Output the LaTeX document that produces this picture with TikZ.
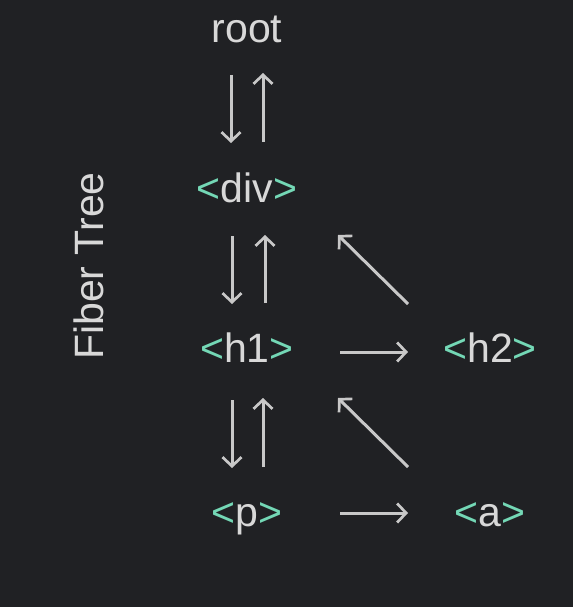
\documentclass[tikz,border=0pt]{standalone}
\usepackage{fontspec}
\setmainfont{Liberation Sans}
\usetikzlibrary{arrows.meta}
\definecolor{bgc}{HTML}{202124}
\definecolor{txt}{HTML}{D8D8D8}
\definecolor{tag}{HTML}{74D8B6}
\definecolor{arc}{HTML}{C8C8C8}
\newcommand{\tg}[1]{\textcolor{tag}{<}#1\textcolor{tag}{>}}
\begin{document}
\begin{tikzpicture}[x=1pt,y=-1pt,
  lbl/.style={anchor=base,inner sep=0pt,text=txt,font=\fontsize{41}{49}\selectfont},
  arr/.style={draw=arc,line width=3pt,-{Straight Barb[length=9pt,width=19pt,line width=2.7pt]}}]
\fill[bgc] (0,0) rectangle (573,607);
\useasboundingbox (0,0) rectangle (573,607);
\node[lbl] (root) at (247,43) {root};
\node[lbl] (div) at (247,202) {\tg{div}};
\node[lbl] (h1) at (247,362) {\tg{h1}};
\node[lbl] (h2) at (490,362) {\tg{h2}};
\node[lbl] (p) at (247,526) {\tg{p}};
\node[lbl] (a) at (490,526) {\tg{a}};
\node[text=txt,font=\fontsize{41}{49}\selectfont,rotate=90,inner sep=0pt] (ft) at (89,266) {Fiber Tree};
% root <-> div
\draw[arr] ([shift={(-16,32)}]root.base) -- ([shift={(-16,-59)}]div.base);
\draw[arr] ([shift={(16,-60)}]div.base) -- ([shift={(16,30)}]root.base);
% div <-> h1
\draw[arr] ([shift={(-15,34)}]div.base) -- ([shift={(-15,-58)}]h1.base);
\draw[arr] ([shift={(18,-59)}]h1.base) -- ([shift={(18,33)}]div.base);
% h2 -> div
\draw[arr] ([shift={(-82,-58)}]h2.base) -- ([shift={(91,33)}]div.base);
% h1 -> h2
\draw[arr] ([shift={(93,-10)}]h1.base) -- ([shift={(-82,-10)}]h2.base);
% h1 <-> p
\draw[arr] ([shift={(-15,38)}]h1.base) -- ([shift={(-15,-58)}]p.base);
\draw[arr] ([shift={(16,-59)}]p.base) -- ([shift={(16,36)}]h1.base);
% a -> h1
\draw[arr] ([shift={(-82,-59)}]a.base) -- ([shift={(91,36)}]h1.base);
% p -> a
\draw[arr] ([shift={(93,-13)}]p.base) -- ([shift={(-82,-13)}]a.base);
\end{tikzpicture}
\end{document}
